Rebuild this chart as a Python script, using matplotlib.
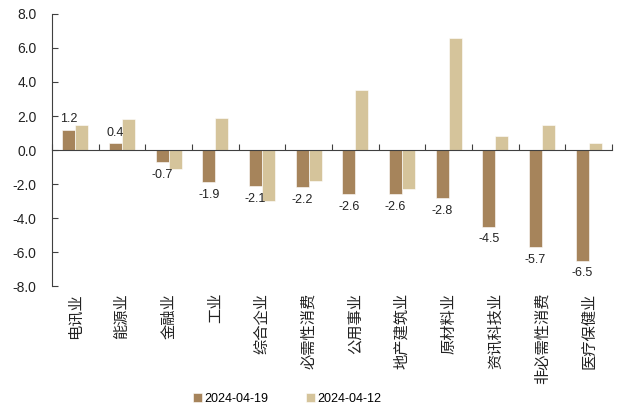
import numpy as np
import matplotlib
matplotlib.use("Agg")
import matplotlib.pyplot as plt
import matplotlib.transforms as mtransforms

plt.rcParams['font.family'] = ['Liberation Sans', 'Noto Sans CJK SC', 'DejaVu Sans']

# -------------------------------
# DATA
# -------------------------------
categories = ["电讯业", "能源业", "金融业", "工业", "综合企业", "必需性消费",
              "公用事业", "地产建筑业", "原材料业", "资讯科技业", "非必需性消费", "医疗保健业"]
week_0419 = [1.2, 0.4, -0.7, -1.9, -2.1, -2.2, -2.6, -2.6, -2.8, -4.5, -5.7, -6.5]
week_0412 = [1.5, 1.8, -1.1, 1.9, -3.0, -1.8, 3.5, -2.3, 6.6, 0.8, 1.5, 0.4]
series_labels = ["2024-04-19", "2024-04-12"]
y_ticks = [-8.0, -6.0, -4.0, -2.0, 0.0, 2.0, 4.0, 6.0, 8.0]

dark = "#A6845B"
light = "#D5C49B"

# -------------------------------
# PLOT
# -------------------------------
fig = plt.figure(figsize=(6.22, 4.11), dpi=100)
ax = fig.add_axes([0.0836, 0.304, 0.9004, 0.662])

x = np.arange(len(categories))
w = 0.28
b1 = ax.bar(x - w / 2, week_0419, width=w, color=dark, edgecolor="white", linewidth=0.4,
            label=series_labels[0])
b2 = ax.bar(x + w / 2, week_0412, width=w, color=light, edgecolor="white", linewidth=0.4,
            label=series_labels[1])

# value labels on the 04-19 bars
for xi, v in zip(x, week_0419):
    if v >= 0:
        ax.annotate(f"{v:.1f}", (xi - w / 2, v), xytext=(0, 3), textcoords="offset points",
                    ha="center", va="bottom", fontsize=9, color="#222222")
    else:
        ax.annotate(f"{v:.1f}", (xi - w / 2, v), xytext=(0, -5), textcoords="offset points",
                    ha="center", va="top", fontsize=9, color="#222222")

ax.set_xlim(-0.5, len(categories) - 0.5)
ax.set_ylim(-8, 8)
ax.set_yticks(y_ticks)
ax.set_yticklabels([f"{t:.1f}" for t in y_ticks], fontsize=10, color="#222222")

# axis styling
for s in ["top", "right"]:
    ax.spines[s].set_visible(False)
ax.spines["bottom"].set_position(("data", 0))
ax.spines["left"].set_color("#404040")
ax.spines["bottom"].set_color("#404040")
ax.spines["left"].set_linewidth(0.8)
ax.spines["bottom"].set_linewidth(0.8)

ax.set_xticks(np.arange(len(categories) + 1) - 0.5)
ax.set_xticklabels([])
ax.tick_params(axis="x", direction="in", length=4, color="#404040")
ax.tick_params(axis="y", direction="in", length=4, color="#404040", pad=11)

# category labels below the plot area, rotated
trans = mtransforms.blended_transform_factory(ax.transData, ax.transAxes)
for xi, name in zip(x, categories):
    ax.text(xi, -0.025, name, transform=trans, rotation=90, ha="center", va="top",
            fontsize=11, family=["Noto Sans CJK SC", "DejaVu Sans"], color="#222222")

fig.legend(handles=[b1, b2], labels=series_labels, loc="center",
           bbox_to_anchor=(0.462, 0.03), ncol=2, frameon=False, fontsize=9,
           handlelength=0.7, handleheight=0.7, handletextpad=0.2, columnspacing=3.0)

fig.savefig("out.png", dpi=100)
